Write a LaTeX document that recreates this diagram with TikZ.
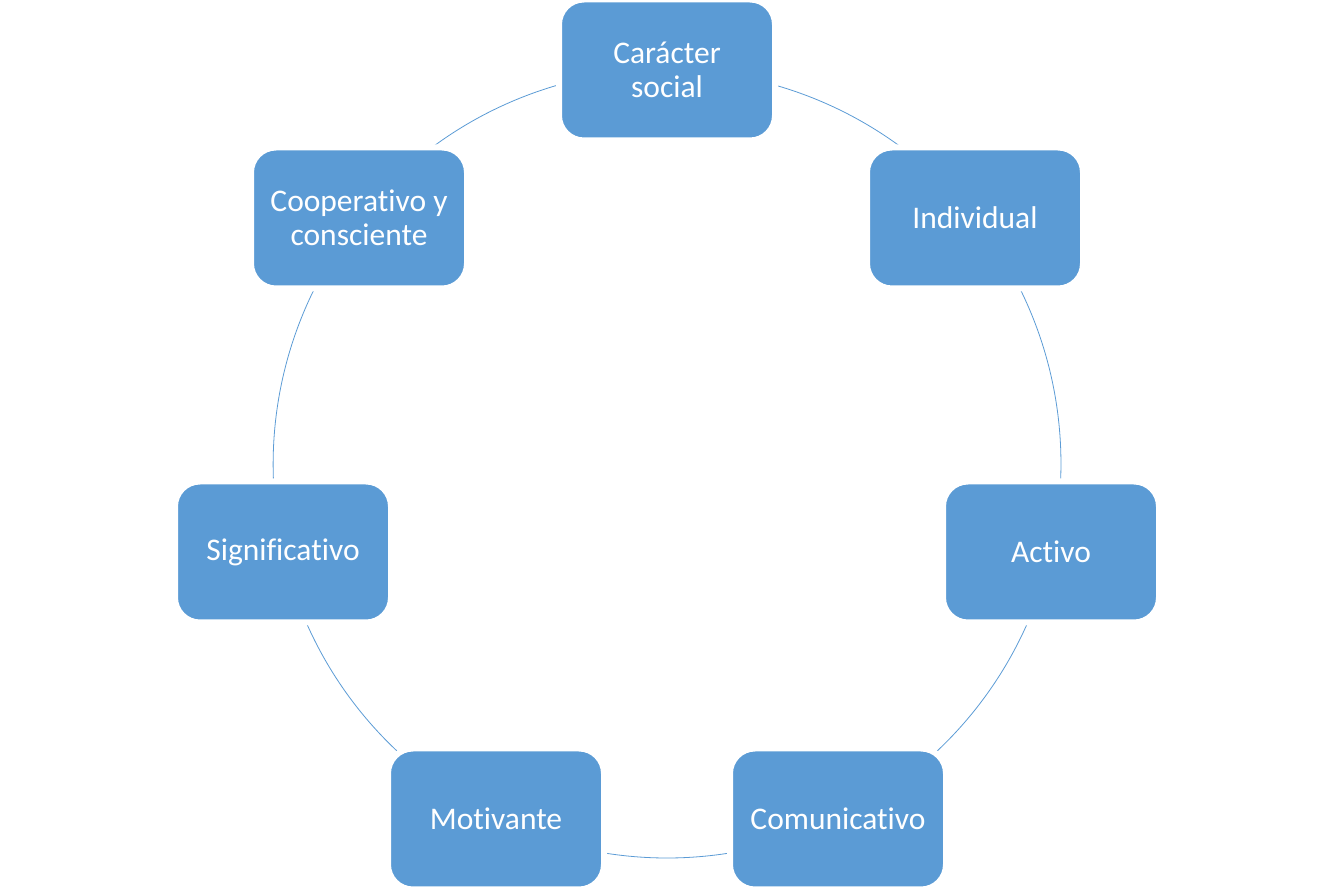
\documentclass[tikz,border=0pt]{standalone}
\usepackage{fontspec}
\setmainfont{Carlito}[Ligatures={NoCommon}]
\usetikzlibrary{backgrounds}
\definecolor{boxblue}{HTML}{5B9BD5}
\tikzset{
  cyclebox/.style={rectangle, rounded corners=25pt, fill=boxblue, draw=white,
    line width=6pt, minimum width=216pt, minimum height=141pt, inner sep=0pt,
    align=center, text=white, font=\fontsize{31.5}{34}\selectfont},
  ringarc/.style={draw=boxblue, line width=0.8pt}
}
\begin{document}
\begin{tikzpicture}[x=1pt,y=1pt]
\useasboundingbox (0,0) rectangle (1334,889);
\coordinate (c) at (667,425);
\node[cyclebox] (n0) at (667,819) {Carácter\\social};
\node[cyclebox] (n1) at (975,671) {Individual};
\node[cyclebox] (n2) at (1051,337) {Activo};
\node[cyclebox] (n3) at (838,70) {Comunicativo};
\node[cyclebox] (n4) at (496,70) {Motivante};
\node[cyclebox] (n5) at (283,337) {Significativo};
\node[cyclebox] (n6) at (359,671) {Cooperativo y\\consciente};
\begin{scope}[on background layer]
\draw[ringarc] (n0.center) arc[start angle=90, end angle=38.571, radius=394pt];
\draw[ringarc] (n1.center) arc[start angle=38.571, end angle=-12.857, radius=394pt];
\draw[ringarc] (n2.center) arc[start angle=-12.857, end angle=-64.286, radius=394pt];
\draw[ringarc] (n3.center) arc[start angle=-64.286, end angle=-115.714, radius=394pt];
\draw[ringarc] (n4.center) arc[start angle=-115.714, end angle=-167.143, radius=394pt];
\draw[ringarc] (n5.center) arc[start angle=-167.143, end angle=-218.571, radius=394pt];
\draw[ringarc] (n6.center) arc[start angle=141.429, end angle=90, radius=394pt];
\end{scope}
\end{tikzpicture}
\end{document}
